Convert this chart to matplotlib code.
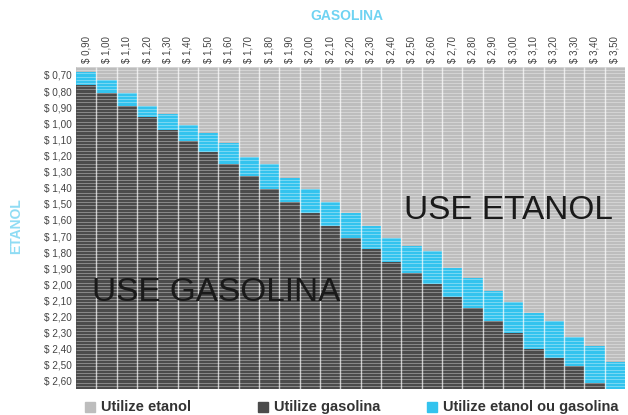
import numpy as np
import matplotlib.pyplot as plt
from matplotlib.patches import Rectangle

# ============================================================
# DATA
# ============================================================
gasolina = [0.90, 1.00, 1.10, 1.20, 1.30, 1.40, 1.50, 1.60, 1.70, 1.80,
            1.90, 2.00, 2.10, 2.20, 2.30, 2.40, 2.50, 2.60, 2.70, 2.80,
            2.90, 3.00, 3.10, 3.20, 3.30, 3.40, 3.50]
etanol = [0.70, 0.80, 0.90, 1.00, 1.10, 1.20, 1.30, 1.40, 1.50, 1.60,
          1.70, 1.80, 1.90, 2.00, 2.10, 2.20, 2.30, 2.40, 2.50, 2.60]

# ethanol price where the "either" (cyan) zone starts, per gasoline column
cyan_top = [0.68, 0.73, 0.81, 0.89, 0.94, 1.01, 1.06, 1.12, 1.21, 1.25,
            1.34, 1.41, 1.49, 1.56, 1.64, 1.71, 1.76, 1.79, 1.90, 1.96,
            2.04, 2.11, 2.18, 2.23, 2.33, 2.38, 2.48]
# ethanol price where the "use gasolina" (dark) zone starts
dark_top = [0.76, 0.81, 0.89, 0.96, 1.04, 1.11, 1.18, 1.25, 1.33, 1.41,
            1.49, 1.56, 1.64, 1.71, 1.78, 1.86, 1.93, 2.00, 2.08, 2.15,
            2.23, 2.30, 2.40, 2.46, 2.51, 2.61, 2.65]

x_labels = ["$ " + f"{v:.2f}".replace(".", ",") for v in gasolina]
y_labels = ["$ " + f"{v:.2f}".replace(".", ",") for v in etanol]

LIGHT = "#bdbdbd"
DARK = "#4b4b4b"
CYAN = "#33c3ee"

plt.rcParams['font.family'] = ['Liberation Sans', 'DejaVu Sans']

# ============================================================
# PLOT
# ============================================================
fig = plt.figure(figsize=(6.28, 4.15), dpi=100)
ax = fig.add_axes([0.121, 0.0627, 0.874, 0.776])

y_min, y_max = etanol[0] - 0.05, etanol[-1] + 0.05
w = 0.1
x = np.array(gasolina)
ct = np.array(cyan_top)
dt = np.array(dark_top)

ax.bar(x, y_max - y_min, bottom=y_min, width=w, color=LIGHT, linewidth=0)
ax.bar(x, dt - ct, bottom=ct, width=w, color=CYAN, linewidth=0)
ax.bar(x, y_max - dt, bottom=dt, width=w, color=DARK, linewidth=0)

# fine horizontal stripes + column separators
ax.hlines(np.arange(y_min, y_max, 0.02), x[0] - w / 2, x[-1] + w / 2,
          color="white", lw=0.6, alpha=0.4)
ax.vlines(np.append(x - w / 2, x[-1] + w / 2)[1:-1], y_min, y_max,
          color="white", lw=1.0, alpha=0.7)

ax.set_xlim(x[0] - w / 2, x[-1] + w / 2)
ax.set_ylim(y_max, y_min)

ax.xaxis.tick_top()
ax.set_xticks(gasolina)
ax.set_xticklabels(x_labels, rotation=90, fontsize=7, color="#444444")
ax.set_yticks(etanol)
ax.set_yticklabels(y_labels, fontsize=7.2, color="#444444")
ax.tick_params(length=0, pad=3)
for s in ax.spines.values():
    s.set_visible(False)

ax.text(2.975, 1.54, "USE ETANOL", fontsize=24, color="#1a1a1a",
        ha="center", va="center")
ax.text(1.54, 2.05, "USE GASOLINA", fontsize=24, color="#1a1a1a",
        ha="center", va="center")

fig.text(0.553, 0.962, "GASOLINA", fontsize=10, color="#6fd3f2",
         weight="bold", ha="center", va="center")
fig.text(0.025, 0.455, "ETANOL", fontsize=10, color="#8fdcf4",
         weight="bold", ha="center", va="center", rotation=90)

# legend
legend = [(LIGHT, "Utilize etanol", 0.136),
          (DARK, "Utilize gasolina", 0.411),
          (CYAN, "Utilize etanol ou gasolina", 0.68)]
for col, lab, xf in legend:
    fig.patches.append(Rectangle((xf, 0.008), 0.016, 0.024, color=col,
                                 transform=fig.transFigure, figure=fig))
    fig.text(xf + 0.025, 0.02, lab, fontsize=10.5, color="#333333",
             weight="bold", ha="left", va="center")

fig.savefig("out.png", dpi=100)
